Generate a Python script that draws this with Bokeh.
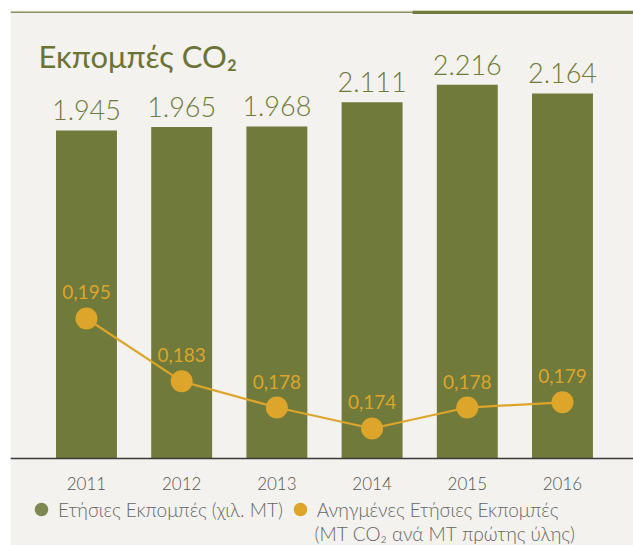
from bokeh.plotting import figure
from bokeh.models import Range1d, Span, Label, Legend, LegendItem, BoxAnnotation, ColumnDataSource
from bokeh.core.properties import value
from bokeh.embed import file_html
from bokeh.resources import INLINE

# ---- data ----
years = ["2011", "2012", "2013", "2014", "2015", "2016"]
emissions = [1945, 1965, 1968, 2111, 2216, 2164]          # χιλ. ΜΤ
emission_labels = ["1.945", "1.965", "1.968", "2.111", "2.216", "2.164"]
intensity = [0.195, 0.183, 0.178, 0.174, 0.178, 0.179]     # ΜΤ CO2 / ΜΤ πρώτης ύλης
intensity_labels = ["0,195", "0,183", "0,178", "0,174", "0,178", "0,179"]

title_text = "Εκπομπές CO₂"
legend1 = "Ετήσιες Εκπομπές (χιλ. ΜΤ)"
legend2 = "Ανηγμένες Ετήσιες Εκπομπές"
legend2b = "(ΜΤ CO₂ ανά ΜΤ πρώτης ύλης)"

# ---- style ----
BG = "#F3F2EE"
OLIVE = "#6F7A3B"
OLIVE_LIGHT = "#7D8850"
ORANGE = "#DDA52A"
FONT = "Lato"
LIGHT = "Lato Light"

W, H = 633, 545
X0, X1 = -0.798, 5.746
Y0, Y1 = -515.7, 2655.6
PXU = 0.1687  # px per unit on primary axis

p = figure(width=W, height=H, output_backend="svg", toolbar_location=None,
           x_axis_location=None, y_axis_location=None,
           x_range=Range1d(X0, X1), y_range=Range1d(Y0, Y1),
           min_border=0, min_border_left=10, min_border_top=10,
           outline_line_color=None,
           background_fill_color=BG, border_fill_color="white")
p.grid.visible = False
p.extra_y_ranges = {"ratio": Range1d(0.15166, 0.25380)}

xs = list(range(len(years)))
src = ColumnDataSource(dict(x=xs, year=years, em=emissions, eml=emission_labels,
                            it=intensity, itl=intensity_labels))

# bars
p.vbar(x="x", top="em", width=0.64, bottom=0, source=src, fill_color=OLIVE, line_color=None)
p.text(x="x", y="em", text="eml", source=src, text_align="center", text_baseline="bottom",
       y_offset=-10, text_color=OLIVE, text_font=value(LIGHT), text_font_size="27px")

# baseline
p.add_layout(Span(location=0, dimension="width", line_color="#3a3a3a", line_width=1.5))

# year labels
p.text(x="x", y=0, text="year", source=src, text_align="center", text_baseline="middle",
       y_offset=25, text_color="#555555", text_font=value(LIGHT), text_font_size="17px")

# line + dots
p.line(x="x", y="it", source=src, y_range_name="ratio", line_color=ORANGE, line_width=2.2)
r_dots = p.scatter(x="x", y="it", source=src, y_range_name="ratio", size=22,
                   fill_color=ORANGE, line_color=None)
p.text(x="x", y="it", text="itl", source=src, y_range_name="ratio", text_align="center",
       text_baseline="bottom", y_offset=-19, text_color=ORANGE, text_font=value(FONT),
       text_font_size="19px")

# top rules
XS = 3.425
p.add_layout(BoxAnnotation(left=X0, right=XS, top=Y1 - 1.0 / PXU, bottom=Y1 - 2.5 / PXU,
                           fill_color="#8A9060", fill_alpha=1, line_color=None))
p.add_layout(BoxAnnotation(left=XS, right=X1, top=Y1, bottom=Y1 - 3.5 / PXU,
                           fill_color=OLIVE, fill_alpha=1, line_color=None))

# title
p.add_layout(Label(x=28, y=490, x_units="screen", y_units="screen", text=title_text,
                   text_baseline="alphabetic",
                   text_color="#6B7434", text_font=FONT, text_font_size="31px"))

# legend (olive key uses a zero-size marker renderer on the bar data, so only the key shows)
r_key = p.scatter(x="x", y="em", source=src, size=0, fill_color=OLIVE_LIGHT, line_color=None)
leg = Legend(items=[LegendItem(label=legend1, renderers=[r_key]),
                    LegendItem(label=legend2, renderers=[r_dots])],
             orientation="horizontal", location=(14, 19),
             label_text_font=LIGHT, label_text_font_size="19px", label_text_color="#666666",
             background_fill_alpha=0, border_line_color=None, padding=0, margin=0,
             glyph_width=34, glyph_height=34, label_standoff=-3, spacing=-10)
p.add_layout(leg)
p.add_layout(Label(x=304, y=12, x_units="screen", y_units="screen", text=legend2b,
                   text_baseline="middle",
                   text_color="#666666", text_font=LIGHT, text_font_size="19px"))

open("out.html", "w").write(file_html(p, INLINE))
